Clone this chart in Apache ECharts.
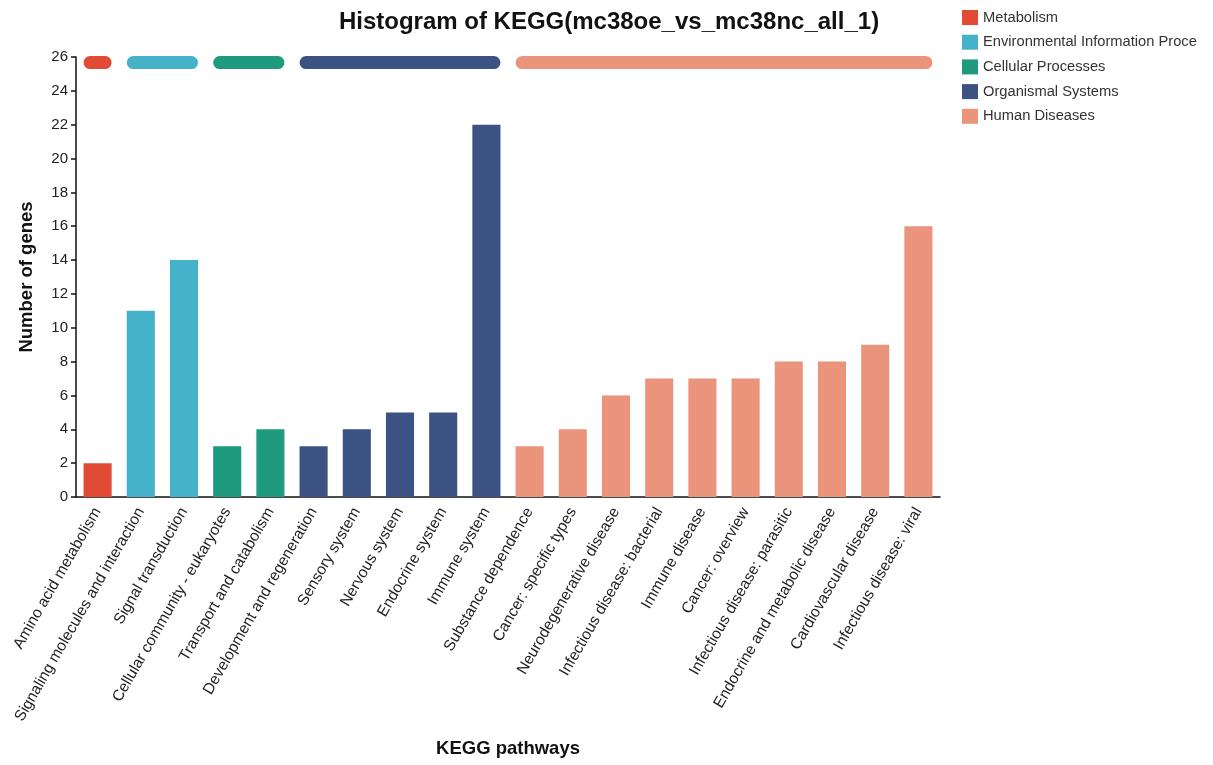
<!DOCTYPE html>
<html>
<head>
<meta charset="utf-8">
<title>Histogram of KEGG</title>
<script src="https://cdn.jsdelivr.net/npm/echarts@6/dist/echarts.min.js"></script>
<style>
  html, body { margin: 0; padding: 0; background: #fff; }
  #chart { width: 1213px; height: 765px; }
</style>
</head>
<body>
<div id="chart"></div>
<script>
// KEGG pathways (x categories) and gene counts
const pathways = [
  'Amino acid metabolism',
  'Signaling molecules and interaction',
  'Signal transduction',
  'Cellular community - eukaryotes',
  'Transport and catabolism',
  'Development and regeneration',
  'Sensory system',
  'Nervous system',
  'Endocrine system',
  'Immune system',
  'Substance dependence',
  'Cancer: specific types',
  'Neurodegenerative disease',
  'Infectious disease: bacterial',
  'Immune disease',
  'Cancer: overview',
  'Infectious disease: parasitic',
  'Endocrine and metabolic disease',
  'Cardiovascular disease',
  'Infectious disease: viral'
];
const geneCounts = [2, 11, 14, 3, 4, 3, 4, 5, 5, 22, 3, 4, 6, 7, 7, 7, 8, 8, 9, 16];

// level-1 class of each pathway (index into classNames)
const pathwayClass = [0, 1, 1, 2, 2, 3, 3, 3, 3, 3, 4, 4, 4, 4, 4, 4, 4, 4, 4, 4];
const classNames = [
  'Metabolism',
  'Environmental Information Processing',
  'Cellular Processes',
  'Organismal Systems',
  'Human Diseases'
];
const classColors = ['#E14B36', '#45B2CA', '#1F9A7E', '#3B5283', '#EA947B'];

// y ticks
const yMin = 0, yMax = 26, yStep = 2;
// level at which the class bands are drawn above the bars
const bandLevel = 25.67;

const chart = echarts.init(document.getElementById('chart'));

// one bar series per class; other categories left empty
const barSeries = classNames.map((name, c) => ({
  name: name,
  type: 'bar',
  barWidth: '65%',
  barGap: '-100%',
  itemStyle: { color: classColors[c] },
  data: geneCounts.map((v, i) => (pathwayClass[i] === c ? v : '-'))
}));

// class bands: [first index, last index, class]
const bands = classNames.map((name, c) => {
  const idx = pathwayClass.map((k, i) => (k === c ? i : -1)).filter(i => i >= 0);
  return [idx[0], idx[idx.length - 1], c];
});

const bandSeries = {
  type: 'custom',
  silent: true,
  data: bands,
  encode: { x: [0, 1] },
  renderItem: function (params, api) {
    const a = api.coord([api.value(0), bandLevel]);
    const b = api.coord([api.value(1), bandLevel]);
    const bw = api.size([1, 0])[0] * 0.65;
    const h = 13;
    return {
      type: 'rect',
      shape: { x: a[0] - bw / 2, y: a[1] - h / 2, width: b[0] - a[0] + bw, height: h, r: h / 2 },
      style: { fill: classColors[api.value(2)] }
    };
  }
};

chart.setOption({
  backgroundColor: '#fff',
  animation: false,
  title: {
    text: 'Histogram of KEGG(mc38oe_vs_mc38nc_all_1)',
    left: 604,
    textAlign: 'center',
    top: 5,
    textStyle: { fontFamily: 'Liberation Sans', fontSize: 24, fontWeight: 'bold', color: '#111' }
  },
  legend: {
    orient: 'vertical',
    left: 962,
    top: 10,
    padding: 0,
    itemWidth: 16,
    itemHeight: 15,
    itemGap: 9.7,
    icon: 'rect',
    data: classNames,
    formatter: name => name.slice(0, 31),
    textStyle: { fontFamily: 'Liberation Sans', fontSize: 14.7, color: '#333' }
  },
  grid: { left: 76, right: 273, top: 57, bottom: 268, containLabel: false },
  xAxis: {
    type: 'category',
    data: pathways,
    name: 'KEGG pathways',
    nameLocation: 'middle',
    nameGap: 242,
    nameTextStyle: { fontFamily: 'Liberation Sans', fontSize: 18.5, fontWeight: 'bold', color: '#111' },
    axisLine: { lineStyle: { color: '#111', width: 1.5 } },
    axisTick: { alignWithLabel: true, length: 5, lineStyle: { color: '#111', width: 1.5 } },
    axisLabel: {
      interval: 0,
      rotate: 60,
      margin: 12,
      fontFamily: 'Liberation Sans',
      fontSize: 15.5,
      color: '#222'
    }
  },
  yAxis: {
    type: 'value',
    min: yMin,
    max: yMax,
    interval: yStep,
    name: 'Number of genes',
    nameLocation: 'middle',
    nameGap: 40,
    nameTextStyle: { fontFamily: 'Liberation Sans', fontSize: 18.5, fontWeight: 'bold', color: '#111' },
    axisLine: { show: true, lineStyle: { color: '#111', width: 1.5 } },
    axisTick: { show: true, length: 5, lineStyle: { color: '#111', width: 1.5 } },
    splitLine: { show: false },
    axisLabel: { fontFamily: 'Liberation Sans', fontSize: 15, color: '#222', margin: 8 }
  },
  series: barSeries.concat([bandSeries])
});
</script>
</body>
</html>
